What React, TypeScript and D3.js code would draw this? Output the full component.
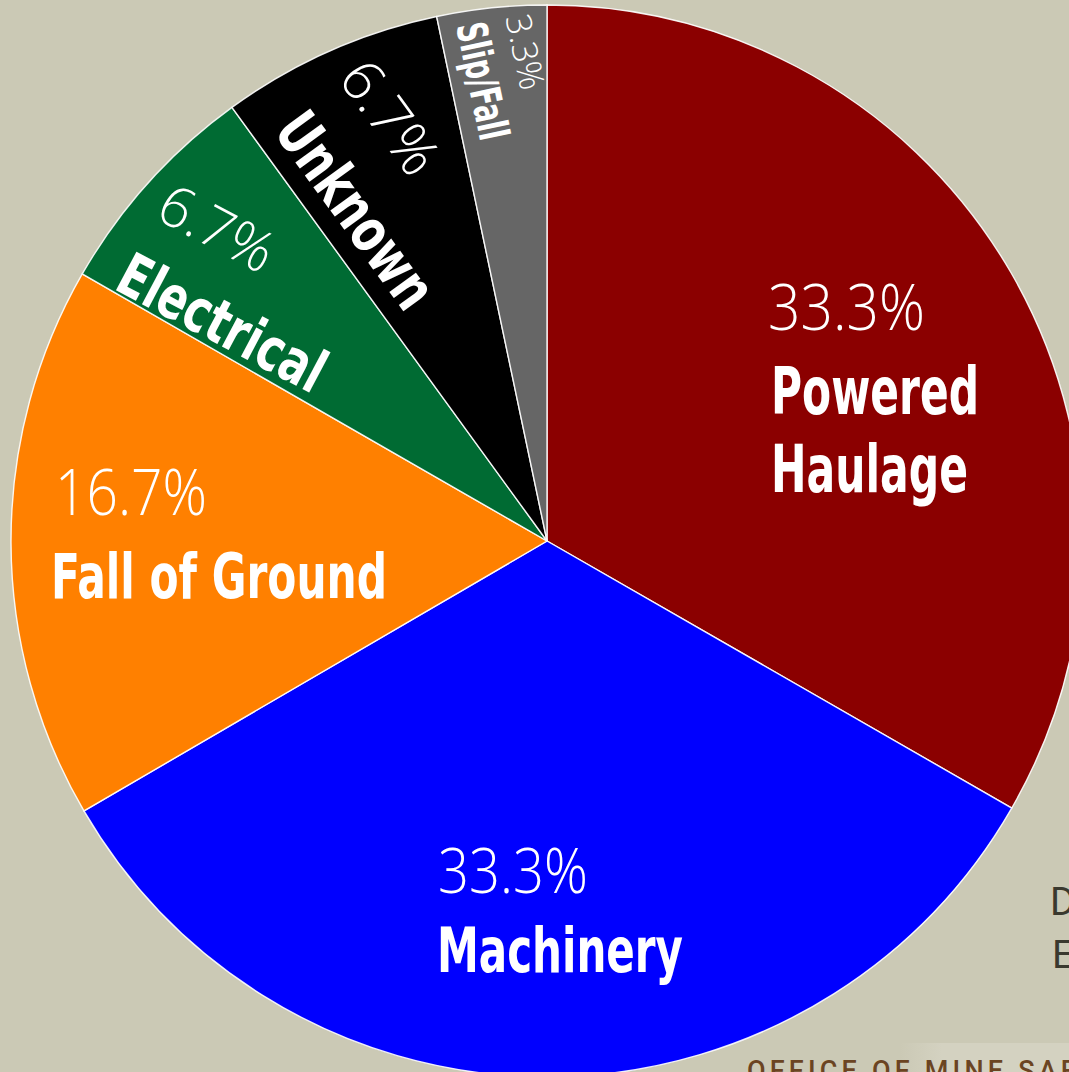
import React from "react";
import * as d3 from "d3";

// ---- data ----
const categories = ["Powered Haulage", "Machinery", "Fall of Ground", "Electrical", "Unknown", "Slip/Fall"];
const labelLines = [["Powered", "Haulage"], ["Machinery"], ["Fall of Ground"], ["Electrical"], ["Unknown"], ["Slip/Fall"]];
const percents = [33.3, 33.3, 16.7, 6.7, 6.7, 3.3];
const colors = ["#8b0000", "#0000ff", "#ff8000", "#006b33", "#000000", "#666666"];

// ---- layout (not data) ----
const W = 1069;
const H = 1072;
const CX = 547;
const CY = 541;
const R = 536;
const BG = "#cbc9b5";
const BOLD = "'Liberation Sans Narrow', 'DejaVu Sans Condensed', 'Roboto Condensed', sans-serif";
const LIGHT = "'Open Sans', 'Lato', 'Roboto', sans-serif";

// horizontal labels: offsets from the pie centre
type HLayout = { kind: "h"; px: number; py: number; pw: number; ps: number; nx: number; ny: number[]; nw: number[]; ns: number };
// rotated labels: placed in a frame rotated along the slice's starting edge
type RLayout = { kind: "r"; tweak: number; px: number; py: number; pw: number; ps: number; nx: number; ny: number; nw: number; ns: number };
const labelLayout: (HLayout | RLayout)[] = [
  { kind: "h", px: 221, py: -211, pw: 157, ps: 65, nx: 224, ny: [-127, -49], nw: [208, 197], ns: 65 },
  { kind: "h", px: -109, py: 352, pw: 150, ps: 63, nx: -110, ny: [431], nw: [246], ns: 62 },
  { kind: "h", px: -492, py: -26, pw: 152, ps: 65, nx: -496, ny: [57], nw: [336], ns: 63 },
  { kind: "r", tweak: -2, px: -499, py: -102, pw: 122, ps: 57, nx: -502, ny: -20, nw: 226, ns: 60 },
  { kind: "r", tweak: 0, px: -498, py: -102, pw: 126, ps: 57, nx: -493, ny: -19, nw: 226, ns: 60 },
  { kind: "r", tweak: 0, px: -521, py: -67, pw: 76, ps: 35, nx: -523, ny: -17, nw: 119, ns: 42 },
];

export default function App() {
  const pie = d3
    .pie<number>()
    .sort(null)
    .value((d) => d)
    .startAngle(0)
    .endAngle(2 * Math.PI);
  const arcs = pie(percents);
  const arc = d3.arc<d3.PieArcDatum<number>>().innerRadius(0).outerRadius(R);

  return (
    <svg
      width={W}
      height={H}
      viewBox={`0 0 ${W} ${H}`}
      style={{ position: "absolute", left: 0, top: 0, display: "block" }}
    >
      <defs>
        <linearGradient id="band" x1="0" x2="1" y1="0" y2="0">
          <stop offset="0" stopColor="#d4d2c1" stopOpacity={0} />
          <stop offset="0.25" stopColor="#d4d2c1" stopOpacity={1} />
          <stop offset="1" stopColor="#d4d2c1" stopOpacity={1} />
        </linearGradient>
      </defs>
      <rect x={0} y={0} width={W} height={H} fill={BG} />
      <rect x={900} y={1043} width={W - 900} height={H - 1043} fill="url(#band)" />

      {/* background page text partly visible, as in the reference */}
      <g fontFamily="Roboto, 'Noto Sans', sans-serif" fill="#3a392f" fontSize={39}>
        <text x={1050} y={915}>D</text>
        <text x={1052} y={968}>E</text>
      </g>
      <text
        x={747}
        y={1080}
        fontFamily="Roboto, 'Noto Sans', sans-serif"
        fontWeight={500}
        fontSize={27}
        letterSpacing={4.2}
        fill="#6b4422"
      >
        OFFICE OF MINE SAFETY
      </text>

      <g transform={`translate(${CX},${CY})`}>
        {arcs.map((a, i) => (
          <path key={categories[i]} d={arc(a) || ""} fill={colors[i]} stroke="#ffffff" strokeWidth={1.4} strokeOpacity={0.9} />
        ))}

        {arcs.map((a, i) => {
          const L = labelLayout[i];
          const pct = `${percents[i].toFixed(1)}%`;
          if (L.kind === "h") {
            return (
              <g key={`lab-${i}`} fill="#ffffff">
                <text
                  x={L.px}
                  y={L.py}
                  fontFamily={LIGHT}
                  fontWeight={300}
                  fontSize={L.ps}
                  textLength={L.pw}
                  lengthAdjust="spacingAndGlyphs"
                >
                  {pct}
                </text>
                {labelLines[i].map((ln, j) => (
                  <text
                    key={ln}
                    x={L.nx}
                    y={L.ny[j]}
                    fontFamily={BOLD}
                    fontWeight={700}
                    fontSize={L.ns}
                    textLength={L.nw[j]}
                    lengthAdjust="spacingAndGlyphs"
                  >
                    {ln}
                  </text>
                ))}
              </g>
            );
          }
          const rot = (a.startAngle * 180) / Math.PI - 270 + L.tweak;
          return (
            <g key={`lab-${i}`} transform={`rotate(${rot})`} fill="#ffffff">
              <text
                x={L.px}
                y={L.py}
                fontFamily={LIGHT}
                fontWeight={300}
                fontSize={L.ps}
                textLength={L.pw}
                lengthAdjust="spacingAndGlyphs"
              >
                {pct}
              </text>
              <text
                x={L.nx}
                y={L.ny}
                fontFamily={BOLD}
                fontWeight={700}
                fontSize={L.ns}
                textLength={L.nw}
                lengthAdjust="spacingAndGlyphs"
              >
                {labelLines[i][0]}
              </text>
            </g>
          );
        })}
      </g>
    </svg>
  );
}
